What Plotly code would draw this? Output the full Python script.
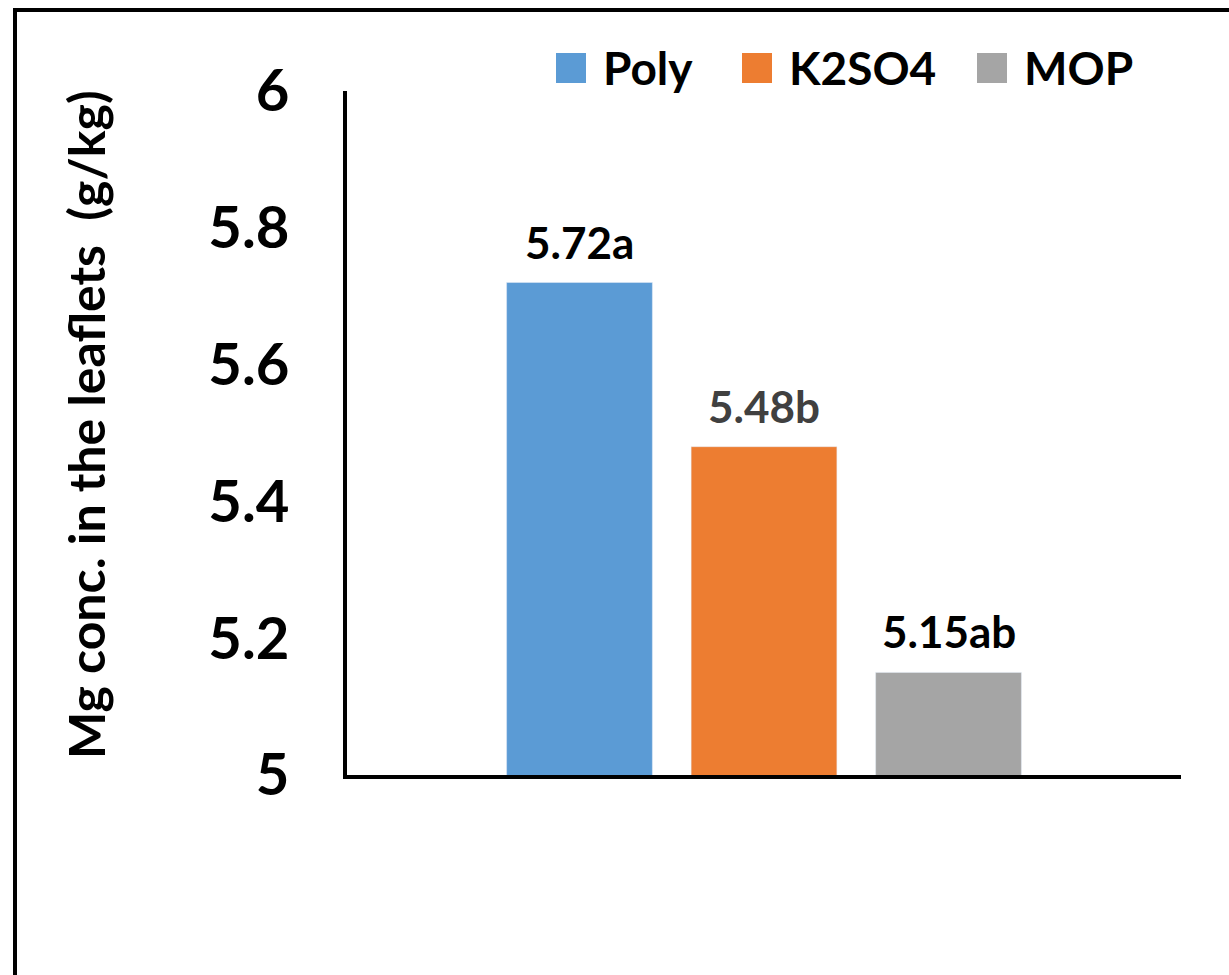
import plotly.graph_objects as go

# Mg concentration in leaflets by potassium fertilizer source
treatments = ["Poly", "K2SO4", "MOP"]
mg_conc = [5.72, 5.48, 5.15]
sig_letters = ["a", "b", "ab"]
bar_colors = ["#5B9BD5", "#ED7D31", "#A5A5A5"]
label_colors = ["#000000", "#404040", "#000000"]
y_ticks = [5, 5.2, 5.4, 5.6, 5.8, 6]
y_title = "Mg conc. in the leaflets\u00a0\u00a0(g/kg)"

W, H = 1229, 975
ML, MR, MT, MB = 347, 48, 91, 200
PW, PH = W - ML - MR, H - MT - MB
FONT = "Lato"


def px_x(px):
    return (px - ML) / PW


def px_y(py):
    return (H - MB - py) / PH


fig = go.Figure()
for name, val, col in zip(treatments, mg_conc, bar_colors):
    fig.add_trace(go.Bar(x=[name], y=[val], name=name, marker_color=col,
                         width=0.79, showlegend=False))

annotations = []
for name, val, let, lc in zip(treatments, mg_conc, sig_letters, label_colors):
    annotations.append(dict(x=name, y=val, xref="x", yref="y",
                            text=f"{val:.2f}{let}", showarrow=False,
                            yanchor="bottom", yshift=13,
                            font=dict(family=FONT, size=44, color=lc, weight="bold")))

# y-axis title, rotated to read bottom-to-top
annotations.append(dict(x=px_x(86), y=px_y(425), xref="paper", yref="paper",
                        text=y_title, showarrow=False, textangle=-90,
                        xanchor="center", yanchor="middle",
                        font=dict(family=FONT, size=50, color="#000000", weight="bold")))

# legend drawn as coloured squares with labels above the plot
shapes = []
sq_left = [556, 742, 977]
for name, col, x0 in zip(treatments, bar_colors, sq_left):
    shapes.append(dict(type="rect", xref="paper", yref="paper",
                       x0=px_x(x0), x1=px_x(x0 + 30), y0=px_y(83), y1=px_y(53),
                       fillcolor=col, line=dict(width=0)))
    annotations.append(dict(x=px_x(x0 + 45), y=px_y(68), xref="paper", yref="paper",
                            text=name, showarrow=False, xanchor="left", yanchor="middle",
                            font=dict(family=FONT, size=46, color="#000000", weight="bold")))

# outer frame (top and left edges)
shapes.append(dict(type="line", xref="paper", yref="paper",
                   x0=px_x(13), x1=px_x(1229), y0=px_y(10), y1=px_y(10),
                   line=dict(color="#000000", width=4)))
shapes.append(dict(type="line", xref="paper", yref="paper",
                   x0=px_x(15), x1=px_x(15), y0=px_y(10), y1=px_y(975),
                   line=dict(color="#000000", width=4)))

fig.update_layout(
    width=W, height=H,
    margin=dict(l=ML, r=MR, t=MT, b=MB),
    paper_bgcolor="white", plot_bgcolor="white",
    barmode="overlay",
    xaxis=dict(type="category", range=[-1.26, 3.26], showticklabels=False,
               showline=True, linecolor="#000000", linewidth=4, ticks="",
               showgrid=False, zeroline=False),
    yaxis=dict(range=[5, 6], tickvals=y_ticks, showline=True, linecolor="#000000",
               linewidth=4, ticks="", showgrid=False, zeroline=False,
               ticklabelstandoff=42,
               tickfont=dict(family=FONT, size=58, color="#000000", weight="bold")),
    shapes=shapes,
    annotations=annotations,
    showlegend=False,
)

fig.write_html("out.html")
